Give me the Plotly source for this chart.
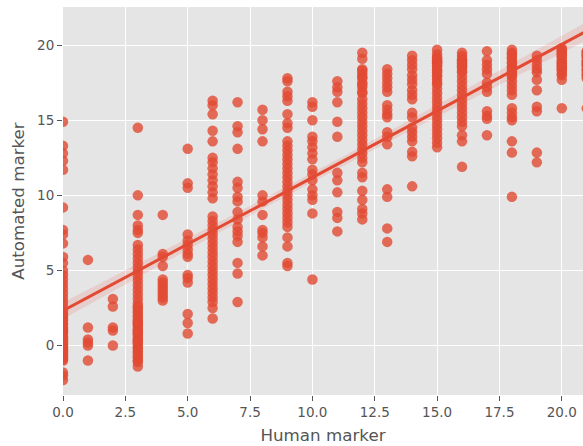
import numpy as np
import plotly.graph_objects as go

# Automated marker scores grouped by human marker value
human_marks = list(range(22))
auto_by_mark = {
    0: [14.9, 13.3, 12.8, 12.3, 11.7, 9.2, 7.7, 7.4, 6.8, 5.9, 5.5, 5.0, 4.7, 4.4, 4.1, 3.8, 3.5, 3.2, 2.9,
        2.6, 2.3, 2.0, 1.7, 1.4, 1.1, 0.8, 0.5, 0.2, -0.1, -0.4, -0.7, -1.0, -1.8, -2.0, -2.3,
        2.1, 1.8, 1.5, 1.2, 0.9, 0.6, 0.3, 0.0, -0.3, -0.6, -0.9, 1.0, 0.4, -0.2, -0.8, 0.1, -0.5],
    1: [5.7, 1.2, 0.4, 0.2, 0.0, -1.0],
    2: [3.1, 2.6, 1.2, 1.0, 0.0],
    3: [14.5, 10.0, 8.7, 8.0, 7.7, 7.5, 6.7, 6.4, 6.1, 5.8, 5.5, 5.2, 4.9, 4.6, 4.3, 4.0, 3.7, 3.4, 3.1,
        2.8, 2.5, 2.2, 1.9, 1.6, 1.3, 1.0, 0.7, 0.4, 0.1, -0.2, -0.5, -0.8, -1.1, -1.4,
        2.6, 2.3, 2.0, 1.7, 1.4, 1.1, 0.8, 0.5, 0.2, -0.1, -0.4, -0.7, -1.0, 1.5, 0.9, 0.3],
    4: [8.7, 6.1, 5.9, 5.3, 4.4, 4.2, 4.0, 3.8, 3.6, 3.4, 3.2, 3.0],
    5: [13.1, 10.8, 10.5, 7.4, 7.0, 6.7, 6.4, 6.1, 5.9, 4.7, 4.5, 4.2, 2.1, 1.5, 0.8],
    6: [16.3, 16.0, 15.4, 14.3, 13.6, 12.5, 12.2, 11.8, 11.4, 11.0, 10.6, 10.2, 9.8, 8.6, 8.3, 8.0, 7.7,
        7.4, 7.1, 6.8, 6.5, 6.2, 5.9, 5.6, 5.3, 5.0, 4.7, 4.4, 4.1, 3.8, 3.5, 3.2, 2.9, 2.5, 1.8],
    7: [16.2, 14.6, 14.2, 13.1, 10.9, 10.5, 9.9, 9.6, 8.9, 8.4, 7.9, 7.6, 7.3, 6.9, 5.5, 4.8, 2.9],
    8: [15.7, 15.0, 14.4, 13.6, 10.0, 9.6, 8.7, 7.7, 7.5, 7.2, 6.6, 6.0],
    9: [17.8, 17.6, 16.9, 16.6, 16.3, 15.4, 14.8, 14.5, 13.6, 13.3, 13.0, 12.7, 12.4, 12.1, 11.8, 11.5,
        11.2, 10.9, 10.6, 10.3, 10.0, 9.7, 9.4, 9.1, 8.8, 8.5, 8.2, 7.9, 7.2, 6.6, 5.5, 5.3],
    10: [16.2, 15.9, 15.0, 13.9, 13.6, 13.2, 12.8, 12.4, 11.7, 11.4, 11.0, 10.4, 10.0, 9.7, 8.8, 4.4],
    11: [17.6, 17.2, 16.9, 16.2, 14.9, 13.9, 11.5, 11.0, 10.2, 8.9, 8.5, 7.6],
    12: [19.5, 19.1, 18.4, 18.1, 17.8, 17.5, 17.2, 16.9, 16.4, 16.1, 15.8, 15.5, 15.2, 14.9, 14.6, 14.3,
         14.0, 13.7, 13.4, 13.1, 12.8, 12.5, 12.2, 11.5, 11.2, 10.3, 9.7, 9.1, 8.8, 8.4,
         18.3, 17.9, 17.4, 16.8],
    13: [18.4, 18.1, 17.8, 17.5, 17.2, 16.9, 16.0, 15.7, 15.4, 15.2, 14.2, 13.9, 13.4, 10.4, 9.9, 7.8, 6.9],
    14: [19.3, 19.0, 18.7, 18.4, 18.0, 17.7, 17.4, 17.0, 16.7, 16.4, 15.5, 15.2, 14.5, 14.2, 13.9, 13.6,
         12.9, 12.6, 10.6],
    15: [19.7, 19.2, 18.9, 18.6, 18.3, 18.0, 17.7, 17.4, 17.1, 16.8, 16.5, 16.2, 15.9, 15.6, 15.3, 15.0,
         14.7, 14.4, 14.1, 13.8, 13.5, 13.2, 18.8, 18.4, 17.9, 17.5,
         19.4, 19.0, 18.7, 18.2, 18.9, 19.1],
    16: [19.5, 19.1, 18.8, 18.5, 18.2, 17.9, 17.6, 17.3, 17.0, 16.7, 16.4, 16.1, 15.8, 15.5, 15.2, 14.9,
         14.6, 14.0, 13.6, 11.9, 19.3, 18.9, 18.6, 18.3, 19.0, 18.7],
    17: [19.6, 19.0, 18.7, 18.4, 18.1, 17.5, 17.2, 16.9, 15.6, 15.3, 15.1, 14.0],
    18: [19.7, 19.4, 19.1, 18.8, 18.5, 18.2, 17.9, 17.6, 17.3, 17.0, 16.7, 15.8, 15.5, 15.2, 15.0, 13.6,
         12.85, 9.9, 19.5, 19.2, 18.9, 18.6, 18.3, 18.0],
    19: [19.3, 19.0, 18.7, 18.4, 18.2, 17.7, 17.0, 15.9, 15.6, 12.85, 12.2],
    20: [19.8, 19.5, 19.2, 18.9, 18.6, 18.3, 18.0, 17.7, 15.8,
         19.6, 19.3, 19.0, 18.7, 18.4, 18.1, 19.7, 19.4, 18.8, 18.5],
    21: [19.6, 19.3, 19.0, 18.7, 18.4, 18.1, 17.8, 15.8,
         19.5, 19.2, 18.9, 18.6, 18.3, 18.0, 19.4, 18.8],
}

x_tick_vals = [0, 2.5, 5, 7.5, 10, 12.5, 15, 17.5, 20]
x_tick_text = ["0.0", "2.5", "5.0", "7.5", "10.0", "12.5", "15.0", "17.5", "20.0"]
y_tick_vals = [0, 5, 10, 15, 20]
y_tick_text = ["0", "5", "10", "15", "20"]

xs = np.array([h for h in human_marks for _ in auto_by_mark[h]], dtype=float)
ys = np.array([v for h in human_marks for v in auto_by_mark[h]], dtype=float)

# linear regression with 95% confidence band
slope, intercept = np.polyfit(xs, ys, 1)
n = len(xs)
grid = np.linspace(xs.min(), xs.max(), 100)
fit = intercept + slope * grid
resid = ys - (intercept + slope * xs)
s = np.sqrt(np.sum(resid ** 2) / (n - 2))
sxx = np.sum((xs - xs.mean()) ** 2)
se = s * np.sqrt(1 / n + (grid - xs.mean()) ** 2 / sxx)
upper = fit + 1.96 * se
lower = fit - 1.96 * se

red = "#E24A33"
fig = go.Figure()
fig.add_trace(go.Scatter(x=xs, y=ys, mode="markers",
                         marker=dict(color=red, size=10.5, opacity=0.8, line=dict(width=0)),
                         showlegend=False, hoverinfo="skip"))
fig.add_trace(go.Scatter(x=np.concatenate([grid, grid[::-1]]), y=np.concatenate([upper, lower[::-1]]),
                         fill="toself", fillcolor="rgba(226,74,51,0.15)", line=dict(width=0),
                         mode="lines", showlegend=False, hoverinfo="skip"))
fig.add_trace(go.Scatter(x=grid, y=fit, mode="lines", line=dict(color=red, width=3),
                         showlegend=False, hoverinfo="skip"))

axis_common = dict(showgrid=True, gridcolor="white", gridwidth=1, zeroline=False,
                   ticks="outside", ticklen=5, tickcolor="#555555", tickwidth=1,
                   tickfont=dict(family="DejaVu Sans", size=13.5, color="#555555"),
                   showline=False, automargin=False)
fig.update_xaxes(range=[0, 20.85], tickvals=x_tick_vals, ticktext=x_tick_text,
                 title=dict(text="Human marker", font=dict(family="DejaVu Sans", size=16.7, color="#555555"),
                            standoff=10), **axis_common)
fig.update_yaxes(range=[-3.3, 22.55], tickvals=y_tick_vals, ticktext=y_tick_text,
                 title=dict(text="Automated marker", font=dict(family="DejaVu Sans", size=16.7, color="#555555"),
                            standoff=8), **axis_common)
fig.update_layout(width=583, height=446, margin=dict(l=63, r=0, t=7, b=51),
                  plot_bgcolor="#E5E5E5", paper_bgcolor="white")
fig.write_html("out.html", config={"displayModeBar": False},
               post_script="document.body.style.margin='0px';document.body.style.overflow='hidden';")
